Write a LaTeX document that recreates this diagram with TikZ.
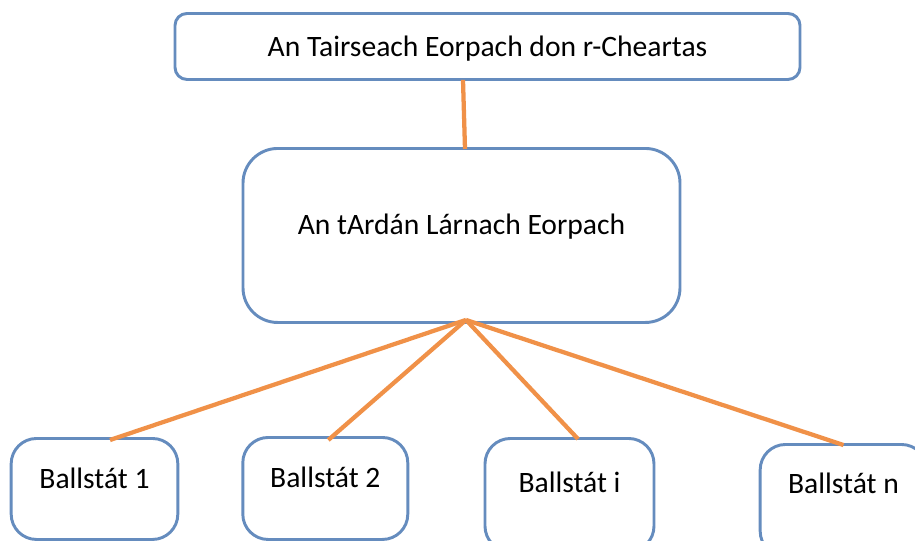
\documentclass[tikz,border=0pt]{standalone}
\usepackage{fontspec}
\setmainfont{Carlito}
\usepackage{tikz}
\usetikzlibrary{positioning}
\definecolor{boxblue}{HTML}{658CBE}
\definecolor{linkorange}{HTML}{F09148}

\begin{document}
\begin{tikzpicture}[
    x=0.75pt,
    y=-0.75pt,
    line join=round
]


\tikzstyle{box}=[
    rectangle,
    draw=boxblue,
    line width=2.2pt,
    fill=white,
    anchor=north,
    inner xsep=0pt,
    inner ysep=0pt,
    rounded corners=19pt,
    minimum width=125pt,
    font=\fontsize{22.2}{26}\selectfont
]

\tikzstyle{link}=[
    draw=linkorange,
    line width=3.2pt
]

\useasboundingbox (0,0) rectangle (915,540);


\node[box, rounded corners=9pt, minimum width=468.75pt,
    text height=32.25pt, text depth=17.25pt] (tribunal) at (487.5,12)
    {An Tairseach Eorpach don r-Cheartas};
\node[box, rounded corners=26pt, minimum width=327.75pt,
    text height=64.5pt, text depth=66pt] (central) at (461.5,147)
    {An tArdán Lárnach Eorpach};


\node[box, text height=37.5pt, text depth=38.25pt] (state1) at (94.5,437) {Ballstát 1};
\node[box, minimum width=123.75pt, text height=37.5pt, text depth=39pt] (state2) at (325.3,436) {Ballstát 2};
\node[box, minimum width=126.75pt, text height=40.5pt, text depth=44.25pt] (statei) at (569.5,437) {Ballstát i};
\node[box, text height=37.1pt, text depth=46.9pt] (staten) at (843.5,443) {Ballstát n};


\coordinate (hub) at ([shift={(4.5,-4)}]central.south);

\draw[link] ([shift={(-24.5,-1)}]tribunal.south) -- ([shift={(3.5,2)}]central.north);
\draw[link] (hub) -- ([shift={(15.5,3)}]state1.north);
\draw[link] (hub) -- ([shift={(3,4)}]state2.north);
\draw[link] (hub) -- ([shift={(8.5,2)}]statei.north);
\draw[link] (hub) -- ([shift={(0,2)}]staten.north);

\end{tikzpicture}
\end{document}
